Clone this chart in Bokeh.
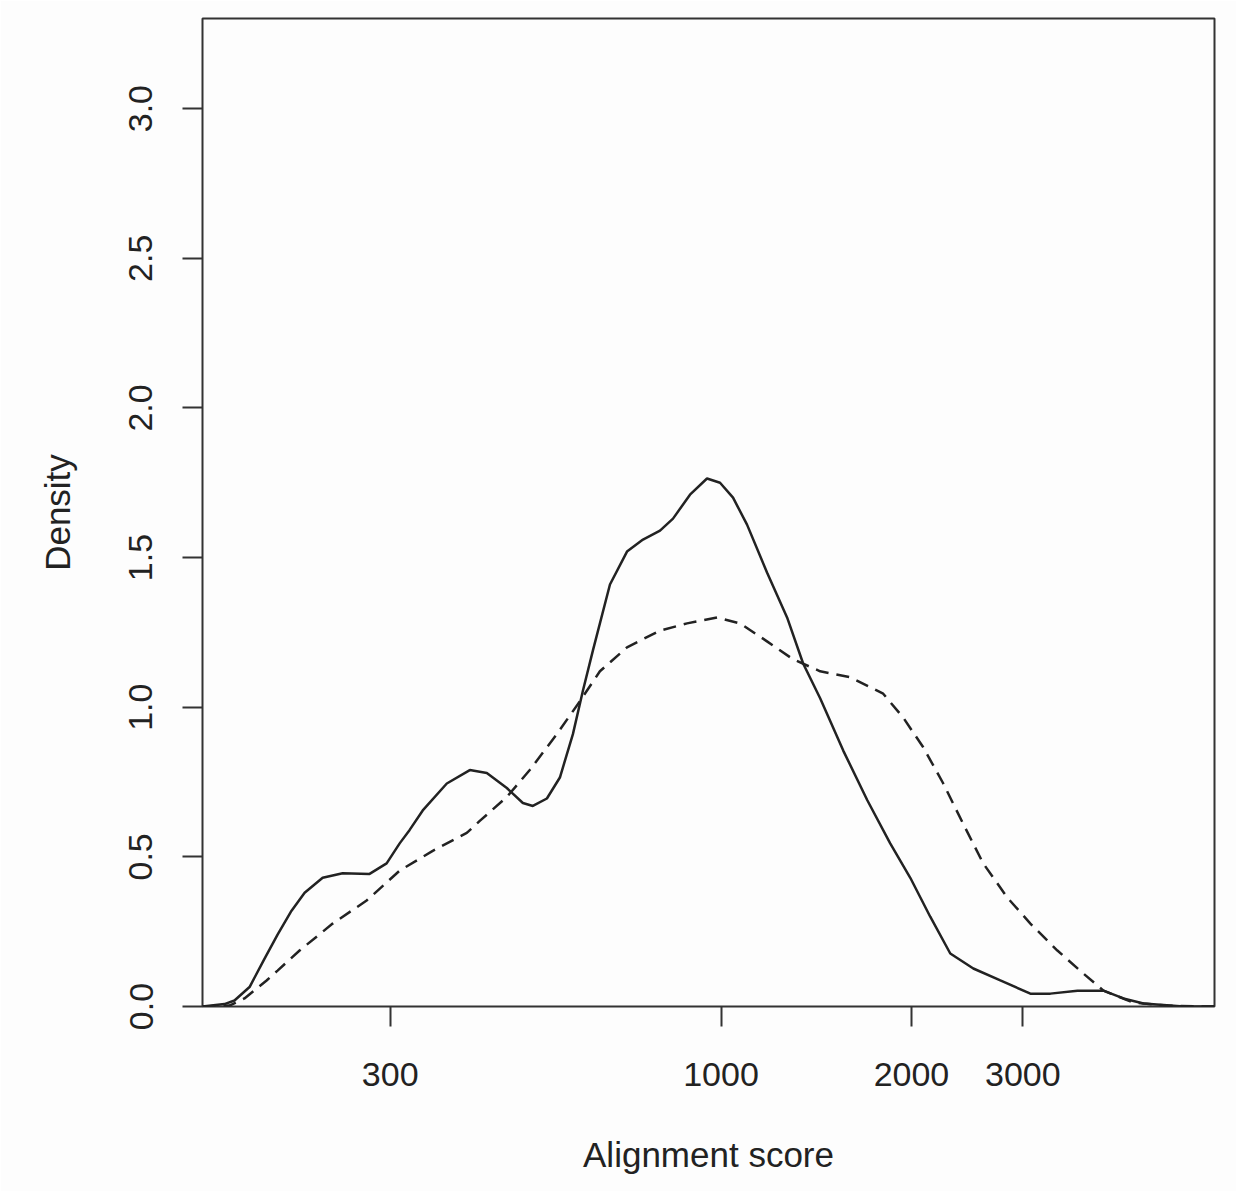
import math
from bokeh.plotting import figure
from bokeh.models import Range1d, FixedTicker, PrintfTickFormatter
from bokeh.embed import file_html
from bokeh.resources import INLINE

# Solid curve (alignment score, density)
solid_x = [151.5, 164.1, 170.2, 179.8, 189.9, 199.1, 209.5, 219.7, 234.6, 252.3,
           278.3, 296.1, 310.5, 322.0, 337.7, 368.6, 400.8, 426.4, 458.6, 486.2,
           504.2, 530.6, 556.3, 583.3, 604.9, 627.4, 667.5, 710.2, 752.8, 800.9,
           839.7, 893.2, 950.3, 996.4, 1044.7, 1099.3, 1182.2, 1271.8, 1348.3, 1434.4,
           1560.2, 1702.2, 1851.0, 1991.3, 2141.4, 2303.4, 2504.8, 2763.6, 3083.0, 3315.5,
           3659.0, 4022.7, 4325.3, 4653.2, 5383.3, 6025.6]
solid_y = [0.0, 0.008, 0.02, 0.065, 0.16, 0.24, 0.32, 0.38, 0.43, 0.445,
           0.443, 0.478, 0.545, 0.59, 0.655, 0.745, 0.79, 0.78, 0.73, 0.68,
           0.67, 0.695, 0.765, 0.91, 1.055, 1.19, 1.41, 1.52, 1.56, 1.59,
           1.63, 1.71, 1.764, 1.75, 1.70, 1.61, 1.45, 1.30, 1.146, 1.03,
           0.855, 0.69, 0.545, 0.43, 0.30, 0.177, 0.127, 0.087, 0.043, 0.043,
           0.053, 0.053, 0.027, 0.01, 0.0, 0.0]

# Dashed curve (alignment score, density)
dashed_x = [151.5, 167.1, 176.5, 191.3, 199.1, 215.7, 243.3, 275.3, 310.5, 350.2,
            396.4, 415.6, 458.6, 498.5, 550.2, 598.3, 643.5, 710.2, 800.9, 883.8,
            985.5, 1071.6, 1182.2, 1300.0, 1434.4, 1600.5, 1804.4, 1941.1, 2087.4, 2245.4,
            2414.6, 2596.9, 2835.0, 3083.0, 3401.3, 3739.8, 4022.7, 4486.8, 5078.6, 5727.5,
            6025.6]
dashed_y = [0.0, 0.003, 0.027, 0.087, 0.12, 0.187, 0.277, 0.354, 0.454, 0.52,
            0.58, 0.62, 0.70, 0.79, 0.91, 1.02, 1.12, 1.20, 1.256, 1.28,
            1.30, 1.28, 1.22, 1.16, 1.12, 1.10, 1.045, 0.965, 0.866, 0.745,
            0.61, 0.478, 0.364, 0.277, 0.187, 0.11, 0.053, 0.013, 0.003, 0.0,
            0.0]

x_ticks = [300, 1000, 2000, 3000]
y_ticks = [0.0, 0.5, 1.0, 1.5, 2.0, 2.5, 3.0]

FONT = "Liberation Sans"
INK = "#222222"

p = figure(width=1236, height=1191, x_axis_type="log",
           x_range=Range1d(151.5, 6025.6), y_range=Range1d(0, 3.301),
           output_backend="svg", toolbar_location=None,
           min_border_left=202, min_border_right=22,
           min_border_top=18, min_border_bottom=185)

p.background_fill_color = "#fdfdfd"
p.border_fill_color = "#fdfdfd"
p.outline_line_color = "#333333"
p.outline_line_width = 2
p.xgrid.visible = False
p.ygrid.visible = False

for ax in (p.xaxis[0], p.yaxis[0]):
    ax.axis_line_color = None
    ax.major_tick_out = 20
    ax.major_tick_in = 0
    ax.minor_tick_out = 0
    ax.minor_tick_in = 0
    ax.major_tick_line_color = "#333333"
    ax.major_tick_line_width = 2
    ax.major_label_text_font = FONT
    ax.major_label_text_font_size = "34px"
    ax.major_label_text_color = INK
    ax.axis_label_text_font = FONT
    ax.axis_label_text_font_size = "35px"
    ax.axis_label_text_font_style = "normal"
    ax.axis_label_text_color = INK

p.xaxis.ticker = FixedTicker(ticks=x_ticks)
p.xaxis.formatter = PrintfTickFormatter(format="%d")
p.xaxis.major_label_standoff = 36
p.xaxis.axis_label = "Alignment score"
p.xaxis.axis_label_standoff = 46

p.yaxis.ticker = FixedTicker(ticks=y_ticks)
p.yaxis.formatter = PrintfTickFormatter(format="%.1f")
p.yaxis.major_label_orientation = "vertical"
p.yaxis.major_label_standoff = 30
p.yaxis.axis_label = "Density"
p.yaxis.axis_label_standoff = 50

p.line(solid_x, solid_y, line_color=INK, line_width=2.5)
p.line(dashed_x, dashed_y, line_color=INK, line_width=2.5, line_dash="13 8")

open("out.html", "w").write(file_html(p, INLINE))
